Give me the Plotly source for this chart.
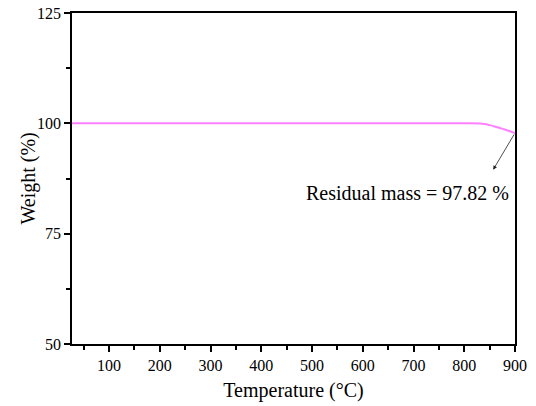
import plotly.graph_objects as go

temperature = [27, 100, 200, 300, 400, 500, 600, 700, 800, 830, 840, 850, 860, 870, 880, 890, 900]
weight = [100.0, 100.0, 100.0, 100.0, 100.0, 100.0, 100.0, 100.0, 100.0, 99.97, 99.85, 99.6, 99.3, 98.95, 98.6, 98.22, 97.82]
x_ticks = [100, 200, 300, 400, 500, 600, 700, 800, 900]
y_ticks = [50, 75, 100, 125]
residual_label = "Residual mass = 97.82 %"
residual_value = 97.82

FONT = "Liberation Serif"

fig = go.Figure()
fig.add_trace(go.Scatter(
    x=temperature, y=weight, mode="lines",
    line=dict(color="#ff80ff", width=2, shape="spline"),
    showlegend=False, hoverinfo="skip",
))

axis_common = dict(
    showgrid=False, zeroline=False, showline=True, linecolor="black", linewidth=1.5,
    mirror=True, ticks="outside", ticklen=6, tickwidth=1.5, tickcolor="black",
    tickfont=dict(family=FONT, size=16, color="black"), automargin=False,
)

fig.update_xaxes(
    range=[27, 900], tickvals=x_ticks,
    minor=dict(ticks="outside", ticklen=4, tickwidth=1.5, tickcolor="black", dtick=50, tick0=0),
    title=dict(text="Temperature (°C)", font=dict(family=FONT, size=20, color="black"), standoff=10),
    **axis_common,
)
fig.update_yaxes(
    range=[50, 125], tickvals=y_ticks,
    minor=dict(ticks="outside", ticklen=4, tickwidth=1.5, tickcolor="black", dtick=12.5, tick0=50),
    **axis_common,
)

# y-axis title
fig.add_annotation(
    x=0, y=0.5, xref="paper", yref="paper", xshift=-44, textangle=-90,
    text="Weight (%)", showarrow=False, xanchor="center", yanchor="middle",
    font=dict(family=FONT, size=20, color="black"),
)

# arrow from curve end toward label
fig.add_annotation(
    x=857, y=89.5, ax=temperature[-1], ay=residual_value, axref="x", ayref="y",
    xref="x", yref="y", text="", showarrow=True,
    arrowhead=2, arrowsize=1.0, arrowwidth=0.8, arrowcolor="#222",
)
fig.add_annotation(
    x=689, y=84.3, xref="x", yref="y", text=residual_label, showarrow=False,
    font=dict(family=FONT, size=20, color="black"),
)

fig.update_layout(
    width=536, height=406,
    margin=dict(l=72, r=21, t=13, b=62, autoexpand=False),
    paper_bgcolor="white", plot_bgcolor="white",
    font=dict(family=FONT, color="black"),
)

fig.write_html(
    "out.html",
    config={"displayModeBar": False},
    post_script="document.body.style.margin='0';document.body.style.overflow='hidden';",
)
